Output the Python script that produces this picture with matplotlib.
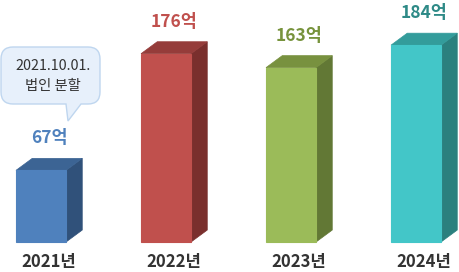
import matplotlib
matplotlib.use("Agg")
import matplotlib.pyplot as plt
from matplotlib.patches import Polygon, PathPatch
from matplotlib.path import Path

plt.rcParams['font.family'] = ['Noto Sans CJK KR', 'DejaVu Sans']

years = ["2021년", "2022년", "2023년", "2024년"]
values = [67, 176, 163, 184]
value_labels = ["67억", "176억", "163억", "184억"]
front_colors = ["#4F81BD", "#C0504D", "#9BBB59", "#43C6C8"]
top_colors = ["#3C6494", "#953C3A", "#78913F", "#339C9B"]
side_colors = ["#30517A", "#7A2F2D", "#627835", "#2B807E"]
label_colors = ["#4F81BD", "#C0504D", "#77933C", "#2E8A87"]
note_lines = ["2021.10.01.", "법인 분할"]

W, H = 459, 272
fig = plt.figure(figsize=(W / 100, H / 100), dpi=100)
ax = fig.add_axes([0, 0, 1, 1])
ax.set_xlim(-0.328, 3.344)
ax.set_ylim(-28.0, 226.2)
ax.axis("off")

bw = 0.4      # bar front width in x units
ddx = 0.13    # depth x
ddy = 11.2    # depth y

for i, v in enumerate(values):
    x0 = i - bw / 2
    x1 = i + bw / 2
    front = Polygon([(x0, 0), (x1, 0), (x1, v), (x0, v)], closed=True,
                    facecolor=front_colors[i], edgecolor=front_colors[i], lw=0.8)
    side = Polygon([(x1, 0), (x1 + ddx, ddy), (x1 + ddx, v + ddy), (x1, v)], closed=True,
                   facecolor=side_colors[i], edgecolor=side_colors[i], lw=0.5)
    top = Polygon([(x0, v), (x1, v), (x1 + ddx, v + ddy), (x0 + ddx, v + ddy)], closed=True,
                  facecolor=top_colors[i], edgecolor=top_colors[i], lw=0.5)
    for p in (side, top, front):
        ax.add_patch(p)
    ax.annotate(value_labels[i], (i + ddx / 2, v + ddy), xytext=(0, 20),
                textcoords="offset pixels", ha="center", va="center",
                fontsize=12.5, fontweight="bold", color=label_colors[i])
    ax.annotate(years[i], (i + ddx / 2, 0), xytext=(0, -20),
                textcoords="offset pixels", ha="center", va="center",
                fontsize=12, fontweight="bold", color="#333333")

# callout bubble (pixel coords, y from top)
def px(x, y):
    return (x / W, 1 - y / H)

L, R, T, B, r = 1, 100, 47, 104, 12
verts = [px(L + r, T), px(R - r, T), px(R, T), px(R, T + r), px(R, B - r),
         px(R, B), px(R - r, B), px(81, B), px(68, 121), px(66, B),
         px(L + r, B), px(L, B), px(L, B - r), px(L, T + r), px(L, T), px(L + r, T),
         px(L + r, T)]
codes = [Path.MOVETO, Path.LINETO, Path.CURVE3, Path.CURVE3, Path.LINETO,
         Path.CURVE3, Path.CURVE3, Path.LINETO, Path.LINETO, Path.LINETO,
         Path.LINETO, Path.CURVE3, Path.CURVE3, Path.LINETO, Path.CURVE3, Path.CURVE3,
         Path.CLOSEPOLY]
bubble = PathPatch(Path(verts, codes), facecolor="#E7F0FB", edgecolor="#BFD6EF",
                   lw=1.0, transform=fig.transFigure)
ax.add_patch(bubble)
fig.text(53 / W, 1 - 66 / H, note_lines[0], ha="center", va="center",
         fontsize=10.3, color="#333333")
fig.text(53 / W, 1 - 86 / H, note_lines[1], ha="center", va="center",
         fontsize=10.3, color="#333333")

fig.savefig("out.png", dpi=100)
